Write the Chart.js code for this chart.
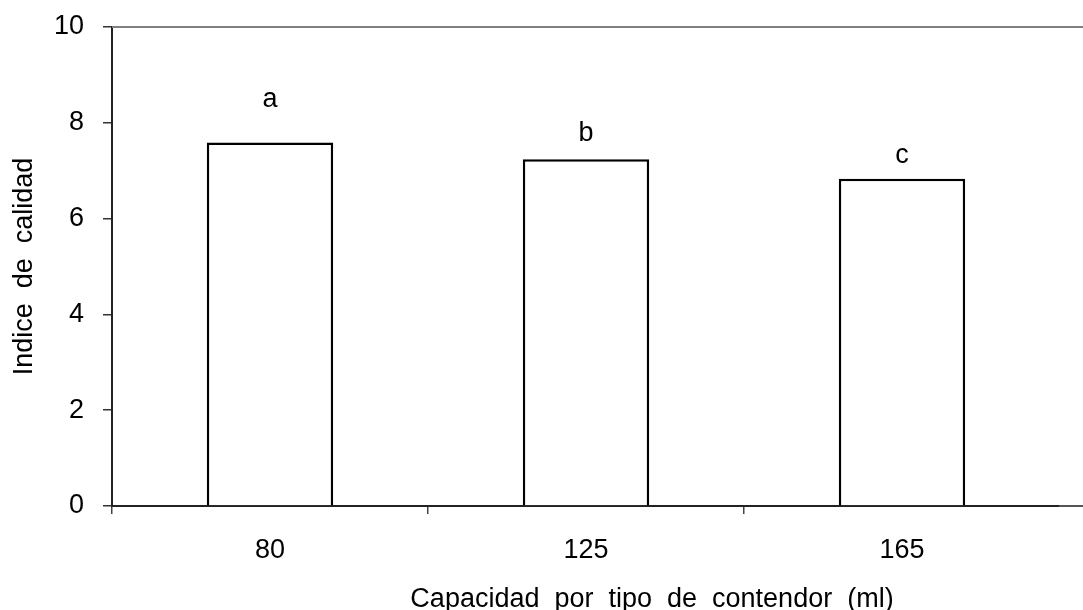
<!DOCTYPE html>
<html>
<head>
<meta charset="utf-8">
<script src="https://cdn.jsdelivr.net/npm/chart.js@4/dist/chart.umd.min.js"></script>
<style>
  html, body { margin: 0; padding: 0; background: #fff; }
  #wrap { width: 1083px; height: 610px; position: relative; }
</style>
</head>
<body>
<div id="wrap"><canvas id="chart"></canvas></div>
<script>
const categories = ['80', '125', '165']
const indiceCalidad = [7.59, 7.24, 6.83]
const letras = ['a', 'b', 'c']
const letrasAltura = [8.33, 7.61, 7.16]
const yTicks = [0, 2, 4, 6, 8, 10]
const xTitle = 'Capacidad  por  tipo  de  contendor  (ml)'

const FONT = 'Liberation Sans, Arial, sans-serif'

// top frame line, axis extension to the right edge, significance letters, x title
const extras = {
  id: 'extras',
  afterDatasetsDraw(chart) {
    const { ctx, chartArea, scales } = chart
    ctx.save()
    ctx.strokeStyle = '#808080'
    ctx.lineWidth = 2
    ctx.beginPath()
    ctx.moveTo(chartArea.left, chartArea.top)
    ctx.lineTo(chart.width, chartArea.top)
    ctx.stroke()
    ctx.strokeStyle = '#555'
    ctx.beginPath()
    ctx.moveTo(chartArea.right - 1, chartArea.bottom)
    ctx.lineTo(chart.width, chartArea.bottom)
    ctx.stroke()

    ctx.fillStyle = '#000'
    ctx.font = '27px ' + FONT
    ctx.textAlign = 'center'
    ctx.textBaseline = 'alphabetic'
    letras.forEach((l, i) => {
      ctx.fillText(l, scales.x.getPixelForValue(i), scales.y.getPixelForValue(letrasAltura[i]))
    })
    ctx.fillText(xTitle, 652, chart.height - 3)
    ctx.restore()
  },
}

new Chart(document.getElementById('chart'), {
  type: 'bar',
  data: {
    labels: categories,
    datasets: [
      {
        data: indiceCalidad,
        backgroundColor: '#fff',
        borderColor: '#000',
        borderWidth: 2.5,
        borderSkipped: 'bottom',
        barPercentage: 0.4,
        categoryPercentage: 1,
      },
    ],
  },
  options: {
    responsive: true,
    maintainAspectRatio: false,
    animation: false,
    layout: { padding: { top: 27, right: 23, left: 0, bottom: 0 } },
    plugins: { legend: { display: false }, tooltip: { enabled: false } },
    scales: {
      x: {
        grid: {
          offset: true,
          drawOnChartArea: false,
          tickLength: 8,
          color: (c) => (c.type === 'tick' ? '#444' : 'rgba(0,0,0,0)'),
          lineWidth: 1.5,
        },
        border: { color: '#222', width: 2 },
        ticks: { color: '#000', font: { size: 27, family: FONT }, padding: 20 },
        afterFit: (s) => { s.height = 104 },
      },
      y: {
        min: 0,
        max: 10,
        afterBuildTicks: (s) => { s.ticks = yTicks.map((v) => ({ value: v })) },
        grid: { drawOnChartArea: false, tickLength: 9, color: '#333', lineWidth: 1.5 },
        border: { color: '#222', width: 2 },
        ticks: { color: '#000', font: { size: 27, family: FONT }, padding: 19 },
        title: {
          display: true,
          text: 'Indice  de  calidad',
          color: '#000',
          font: { size: 27, family: FONT },
          padding: { top: 8, bottom: 0 },
        },
        afterFit: (s) => {
          s.width = 112
          s.paddingTop = 0
          s.paddingBottom = 0
        },
      },
    },
  },
  plugins: [extras],
})
</script>
</body>
</html>
